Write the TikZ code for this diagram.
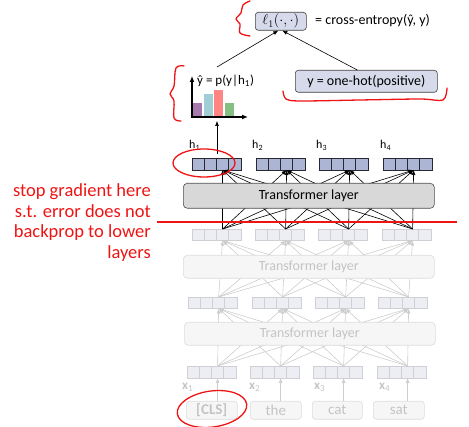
\documentclass[tikz,border=0pt]{standalone}
\usepackage{fontspec}
\setmainfont{Carlito}
\usetikzlibrary{arrows.meta}
\definecolor{vecfill}{RGB}{172,182,212}
\definecolor{vecdraw}{RGB}{40,40,50}
\definecolor{boxfill}{RGB}{216,216,216}
\definecolor{lossfill}{RGB}{214,218,234}
\definecolor{ffill}{RGB}{236,238,243}
\definecolor{fdraw}{RGB}{206,208,214}
\definecolor{fline}{RGB}{205,205,205}
\definecolor{fboxfill}{RGB}{246,246,246}
\definecolor{fboxdraw}{RGB}{220,220,220}
\definecolor{ftext}{RGB}{196,196,196}
\definecolor{annot}{RGB}{238,20,20}
\definecolor{barA}{RGB}{166,122,172}
\definecolor{barB}{RGB}{160,206,212}
\definecolor{barC}{RGB}{255,132,132}
\definecolor{barD}{RGB}{132,192,132}
\tikzset{
  cell/.style={draw=vecdraw, fill=vecfill, line width=0.6pt, minimum width=12.25pt, minimum height=12pt, inner sep=0pt, outer sep=0pt, anchor=north west},
  fcell/.style={cell, draw=fdraw, fill=ffill},
  tbox/.style={draw=black!70, fill=boxfill, rounded corners=4pt, line width=0.6pt, minimum width=251pt, minimum height=25pt, anchor=north west, inner sep=0pt, font=\fontsize{14}{16}\selectfont},
  fbox/.style={tbox, draw=fboxdraw, fill=fboxfill, text=ftext, minimum height=23pt},
  lbox/.style={draw=black!75, fill=lossfill, rounded corners=3pt, line width=0.6pt, anchor=north west, inner sep=0pt, font=\fontsize{14}{16}\selectfont},
  wbox/.style={draw=fboxdraw, fill=fboxfill, text=ftext, rounded corners=3pt, line width=0.6pt, minimum width=51pt, minimum height=18pt, anchor=north west, inner sep=0pt, font=\fontsize{15}{16}\selectfont},
  arr/.style={-{Latex[length=5pt,width=4pt]}, line width=0.6pt, black},
  farr/.style={arr, fline},
  lbl/.style={anchor=west, inner sep=0pt, font=\fontsize{12}{14}\selectfont},
  flbl/.style={lbl, text=ftext},
  redpen/.style={annot, line width=1.3pt, line cap=round, line join=round},
  rtext/.style={text=annot, anchor=east, inner sep=0pt, font=\fontsize{18.5}{20.5}\selectfont, align=right},
}
\begin{document}
\begin{tikzpicture}[x=1pt,y=-1pt]
\useasboundingbox (0,0) rectangle (469,427);

% ---------- vectors
\foreach \l [count=\i] in {192,256,319,383}{
  \foreach \c in {0,...,3}{ \node[cell] (T\i c\c) at (\l+\c*12.25,158) {}; }
}
\foreach \l [count=\i] in {189,252,316,380}{
  \node[lbl] (h\i) at (\l,145) {h\textsubscript{\i}};
}
\foreach \l [count=\i] in {192,255,318,382}{
  \foreach \c in {0,...,3}{ \node[fcell, minimum height=11.5pt] (L\i c\c) at (\l+\c*12.25,229) {}; }
}
\foreach \l [count=\i] in {188,252,315,378}{
  \foreach \c in {0,...,3}{ \node[fcell, minimum height=11.5pt] (M\i c\c) at (\l+\c*12.25,297) {}; }
}
\foreach \l [count=\i] in {187,250,313,377}{
  \foreach \c in {0,...,3}{ \node[fcell] (N\i c\c) at (\l+\c*12.25,366) {}; }
}

% ---------- connections (boxes are drawn over them)
\foreach \i in {1,...,4}{ \foreach \j in {1,...,4}{
  \draw[farr] (N\j c2.north) -- (M\i c2.south);
  \draw[farr] (M\j c2.north) -- (L\i c2.south);
  \draw[arr] (L\j c2.north) -- (T\i c2.south);
}}
\node[tbox] (B1) at (183,183) {Transformer layer};
\node[fbox] (B2) at (183,255) {Transformer layer};
\node[fbox] (B3) at (184,322) {Transformer layer};

% words
\node[wbox] (w1) at (186,401) {\textbf{[CLS]}};
\node[wbox] (w2) at (250,401) {the};
\node[wbox, minimum width=50pt] (w3) at (312,401) {cat};
\node[wbox] (w4) at (373,401) {sat};
\foreach \l [count=\i] in {182,249,314,379}{
  \node[flbl, font=\fontsize{13}{14}\selectfont] (x\i) at (\l,387) {\textbf{x}\textsubscript{\i}};
}
\foreach \i in {1,...,4}{
  \draw[farr] (w\i.north -| N\i c2.south) -- (N\i c2.south);
}

% ---------- histogram
\fill[barA] (193,103) rectangle (202,117);
\fill[barB] (204,94) rectangle (213,117);
\fill[barC] (214,90) rectangle (223,117);
\fill[barD] (225,103) rectangle (234,117);
\coordinate (origin) at (192,117);
\coordinate (yaxtop) at (192,76);
\coordinate (xaxend) at (248,117);
\draw[-{Latex[length=6pt,width=5pt]}, line width=1.8pt] (origin) -- (yaxtop);
\draw[-{Latex[length=6pt,width=5pt]}, line width=1.8pt] ([xshift=-0.9pt]origin) -- (xaxend);
\node[lbl, font=\fontsize{13}{15}\selectfont] (yhat) at (197,81) {ŷ = p(y|h\textsubscript{1})};
\coordinate (histbot) at (217,121);
\coordinate (h1up) at (217,154);
\draw[arr] (h1up) -- (histbot);

% ---------- loss
\node[lbox, minimum width=51pt, minimum height=18pt] (loss) at (255,12) {$\ell_1(\cdot,\cdot)$};
\node[lbl, font=\fontsize{14}{16}\selectfont] (ce) at (315,21) {= cross-entropy(ŷ, y)};
\node[lbox, minimum width=142pt, minimum height=22pt] (onehot) at (295,70) {y = one-hot(positive)};
\coordinate (histtop) at (217,67);
\draw[arr] (histtop) -- ([xshift=-2.5pt]loss.south);
\draw[arr] ([xshift=-9pt]onehot.north) -- ([xshift=1.5pt]loss.south);

% ---------- red annotations
\draw[annot, line width=2pt] (157,222) -- (457,222);
\node[rtext] (note) at (151,222.5) {stop gradient here\\s.t. error does not\\backprop to lower\\layers};
\draw[redpen] plot[smooth, tension=0.6] coordinates {(250,1) (243,5) (241,13) (236,19) (240,24) (240,33) (250,36)};
\draw[redpen] plot[smooth, tension=0.6] coordinates {(184,66) (176,68) (174,86) (170,94) (174,101) (174,118) (181,121)};
\draw[redpen] plot[smooth, tension=0.5] coordinates {(283,91) (286,99) (300,101) (360,100) (420,99) (443,100) (447,88)};
\draw[redpen] (204,163) ellipse [x radius=31, y radius=14];
\draw[redpen, rotate around={8:(212,409)}] (212,409) ellipse [x radius=35, y radius=18];
\end{tikzpicture}
\end{document}
